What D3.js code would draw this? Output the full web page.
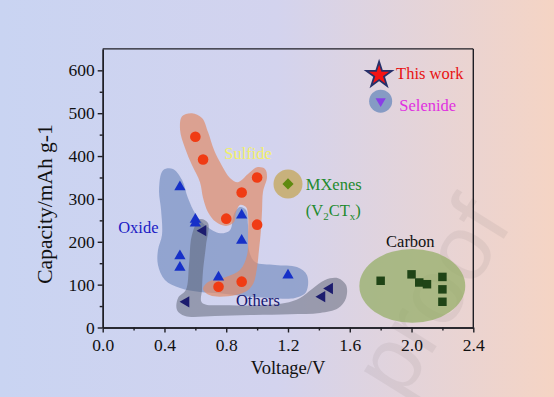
<!DOCTYPE html>
<html>
<head>
<meta charset="utf-8">
<script src="https://cdn.jsdelivr.net/npm/d3@7/dist/d3.min.js"></script>
<style>
  body { margin: 0; }
  svg { display: block; font-family: "Liberation Serif", "Times New Roman", serif; }
</style>
</head>
<body>
<div id="chart"><svg width="554" height="397"></svg></div>
<script>
// ---- data (voltage V, capacity mAh/g) ----
var sulfideV = [0.6, 0.65, 1.0, 0.9, 0.8, 1.0, 0.75, 0.9];
var sulfideC = [445, 392, 350, 315, 254, 240, 95, 107];
var oxideV = [0.5, 0.6, 0.6, 0.9, 0.9, 0.5, 0.5, 0.75, 1.2];
var oxideC = [328, 252, 243, 262, 203, 167, 140, 117, 122];
var othersV = [0.65, 0.54, 1.47, 1.42];
var othersC = [226, 60, 91, 72];
var carbonV = [1.8, 2.0, 2.05, 2.1, 2.2, 2.2, 2.2];
var carbonC = [109, 124, 105, 101, 118, 89, 60];
var mxeneV = [1.2];
var mxeneC = [335];
var thisWork = [1.79, 589];
var selenide = [1.8, 528];

var xTicks = [0, 0.4, 0.8, 1.2, 1.6, 2.0, 2.4];
var yTicks = [0, 100, 200, 300, 400, 500, 600];

// hand drawn group regions, [V, mAh/g]
var sulfideArea = [[0.514,493],[0.578,500],[0.643,489],[0.682,456],[0.721,414],[0.773,377],[0.824,349],[0.876,339],
  [0.941,358],[0.999,374],[1.051,370],[1.064,351],[1.038,316],[1.032,274],[1.025,227],[1.012,181],[0.999,139],
  [0.973,101],[0.922,83],[0.812,73],[0.695,75],[0.65,90],[0.682,106],[0.799,118],[0.889,134],[0.935,169],
  [0.941,216],[0.941,262],[0.928,281],[0.889,286],[0.863,269],[0.85,246],[0.799,237],[0.734,246],[0.682,269],
  [0.65,302],[0.63,339],[0.578,379],[0.533,419],[0.501,461]];
var oxideArea = [[0.391,367],[0.455,370],[0.514,344],[0.552,302],[0.604,263],[0.676,235],[0.76,220],[0.824,227],
  [0.85,265],[0.889,281],[0.928,274],[0.941,239],[0.947,181],[0.986,153],[1.116,146],[1.258,141],[1.323,122],
  [1.317,83],[1.245,69],[1.083,69],[0.922,73],[0.76,80],[0.63,83],[0.501,92],[0.403,111],[0.358,146],
  [0.358,181],[0.384,216],[0.378,274],[0.365,321]];
var othersArea = [[0.63,253],[0.682,244],[0.669,192],[0.65,134],[0.643,88],[0.643,58],[0.824,52],[1.019,52],
  [1.18,57],[1.278,69],[1.356,90],[1.44,111],[1.524,115],[1.576,99],[1.576,69],[1.524,45],[1.407,34],
  [1.213,31],[0.954,29],[0.727,27],[0.533,27],[0.481,41],[0.488,69],[0.539,88],[0.559,146],[0.578,216]];
var carbonArea = { cx: 2.005, cy: 97, rx: 0.343, ry: 86 };

var svg = d3.select("#chart").select("svg");
var width = +svg.attr("width");
var height = +svg.attr("height");
var margin = { top: 48.9, right: 80.7, bottom: 69.5, left: 102.7 };

// background
var grad = svg.append("defs").append("linearGradient")
  .attr("id", "bg").attr("x1", "0").attr("x2", "1").attr("y1", "0").attr("y2", "0");
grad.append("stop").attr("offset", "0").attr("stop-color", "#c9d4f2");
grad.append("stop").attr("offset", "0.5").attr("stop-color", "#d3d3ee");
grad.append("stop").attr("offset", "1").attr("stop-color", "#f5d4c4");
svg.append("rect").attr("width", width).attr("height", height).attr("fill", "url(#bg)");

// watermark
svg.append("text")
  .attr("transform", "translate(402,402) rotate(-58)")
  .attr("font-family", "Liberation Sans, sans-serif")
  .attr("font-size", 92)
  .attr("fill", "#7a7070")
  .attr("opacity", 0.1)
  .text("proof");

var x = d3.scaleLinear().domain([0, 2.4]).range([margin.left, width - margin.right]);
var y = d3.scaleLinear().domain([0, 650]).range([height - margin.bottom, margin.top]);

var area = d3.line()
  .x(function(d) { return x(d[0]); })
  .y(function(d) { return y(d[1]); })
  .curve(d3.curveCatmullRomClosed.alpha(0.5));

svg.append("path").datum(oxideArea).attr("d", area)
  .attr("fill", "#6582b8").attr("opacity", 0.58);
svg.append("path").datum(sulfideArea).attr("d", area)
  .attr("fill", "#e08c6a").attr("opacity", 0.7);
svg.append("path").datum(othersArea).attr("d", area)
  .attr("fill", "#535a6a").attr("opacity", 0.47);

svg.append("ellipse")
  .attr("cx", x(carbonArea.cx)).attr("cy", y(carbonArea.cy))
  .attr("rx", x(carbonArea.rx) - x(0)).attr("ry", y(0) - y(carbonArea.ry))
  .attr("fill", "#93ad64").attr("opacity", 0.72);

svg.append("circle")
  .attr("cx", x(mxeneV[0])).attr("cy", y(mxeneC[0])).attr("r", 14.5)
  .attr("fill", "#c4a450").attr("opacity", 0.72);

svg.append("circle")
  .attr("cx", x(selenide[0])).attr("cy", y(selenide[1])).attr("r", 11.5)
  .attr("fill", "#7590c0").attr("opacity", 0.85);

// axes
var g = svg.append("g");
g.append("g")
  .attr("transform", "translate(0," + y(0) + ")")
  .call(d3.axisBottom(x).tickValues(xTicks).tickFormat(d3.format(".1f")).tickSize(5).tickPadding(6).tickSizeOuter(0));
g.append("g")
  .attr("transform", "translate(0," + y(0) + ")")
  .call(d3.axisBottom(x).tickValues([0.2, 0.6, 1.0, 1.4, 1.8, 2.2]).tickFormat("").tickSize(3).tickSizeOuter(0));
g.append("g")
  .attr("transform", "translate(" + x(0) + ",0)")
  .call(d3.axisLeft(y).tickValues(yTicks).tickSize(5).tickPadding(3).tickSizeOuter(0));
g.append("g")
  .attr("transform", "translate(" + x(0) + ",0)")
  .call(d3.axisLeft(y).tickValues([50, 150, 250, 350, 450, 550]).tickFormat("").tickSize(3).tickSizeOuter(0));

g.selectAll(".domain, .tick line").attr("stroke", "#1e1e24").attr("stroke-width", 1.4);
g.selectAll(".tick text")
  .attr("font-family", "Liberation Serif, serif").attr("font-size", 17.5).attr("fill", "#111");

// frame top/right
g.append("line").attr("x1", x(0)).attr("x2", x(2.4)).attr("y1", y(650)).attr("y2", y(650))
  .attr("stroke", "#1e1e24").attr("stroke-width", 1.4);
g.append("line").attr("x1", x(2.4)).attr("x2", x(2.4)).attr("y1", y(650)).attr("y2", y(0))
  .attr("stroke", "#1e1e24").attr("stroke-width", 1.4);

svg.append("text")
  .attr("x", (x(0) + x(2.4)) / 2).attr("y", 374)
  .attr("text-anchor", "middle").attr("font-size", 18.5).attr("fill", "#111")
  .text("Voltage/V");
svg.append("text")
  .attr("transform", "translate(52," + 204 + ") rotate(-90)")
  .attr("text-anchor", "middle").attr("font-size", 21.5).attr("fill", "#111")
  .text("Capacity/mAh g-1");

// markers
function pts(vs, cs) {
  return vs.map(function(v, i) { return [v, cs[i]]; });
}

svg.selectAll(".sulfide").data(pts(sulfideV, sulfideC)).enter()
  .append("circle").attr("class", "sulfide")
  .attr("cx", function(d) { return x(d[0]); })
  .attr("cy", function(d) { return y(d[1]); })
  .attr("r", 5.3).attr("fill", "#f03c14");

svg.selectAll(".oxide").data(pts(oxideV, oxideC)).enter()
  .append("path").attr("class", "oxide")
  .attr("transform", function(d) { return "translate(" + x(d[0]) + "," + y(d[1]) + ")"; })
  .attr("d", d3.symbol().type(d3.symbolTriangle).size(55))
  .attr("fill", "#1630c8");

svg.selectAll(".others").data(pts(othersV, othersC)).enter()
  .append("path").attr("class", "others")
  .attr("transform", function(d) { return "translate(" + x(d[0]) + "," + y(d[1]) + ") rotate(-90)"; })
  .attr("d", d3.symbol().type(d3.symbolTriangle).size(55))
  .attr("fill", "#1c1c6e");

svg.selectAll(".carbon").data(pts(carbonV, carbonC)).enter()
  .append("path").attr("class", "carbon")
  .attr("transform", function(d) { return "translate(" + x(d[0]) + "," + y(d[1]) + ")"; })
  .attr("d", d3.symbol().type(d3.symbolSquare).size(72))
  .attr("fill", "#1f4416");

svg.selectAll(".mxene").data(pts(mxeneV, mxeneC)).enter()
  .append("path").attr("class", "mxene")
  .attr("transform", function(d) { return "translate(" + x(d[0]) + "," + y(d[1]) + ") rotate(45)"; })
  .attr("d", d3.symbol().type(d3.symbolSquare).size(62))
  .attr("fill", "#5f8a10");

svg.append("path")
  .attr("transform", "translate(" + x(thisWork[0]) + "," + y(thisWork[1]) + ")")
  .attr("d", d3.symbol().type(d3.symbolStar).size(200))
  .attr("fill", "#f41414").attr("stroke", "#26306a").attr("stroke-width", 1.8);

svg.append("path")
  .attr("transform", "translate(" + x(selenide[0]) + "," + y(selenide[1]) + ") rotate(180)")
  .attr("d", d3.symbol().type(d3.symbolTriangle).size(45))
  .attr("fill", "#8a3ee6");

// labels
var labels = [
  { t: "Sulfide", v: 0.787, c: 392, color: "#f2f06a" },
  { t: "Oxide", v: 0.1, c: 220, color: "#1a1ac4" },
  { t: "Others", v: 0.863, c: 49, color: "#151570" },
  { t: "MXenes", v: 1.315, c: 320, color: "#1f8a2e" },
  { t: "Carbon", v: 1.835, c: 188, color: "#111" },
  { t: "This work", v: 1.9, c: 580, color: "#e81212" },
  { t: "Selenide", v: 1.921, c: 505, color: "#e030e0" }
];
svg.selectAll(".lbl").data(labels).enter()
  .append("text").attr("class", "lbl")
  .attr("x", function(d) { return x(d.v); })
  .attr("y", function(d) { return y(d.c); })
  .attr("font-size", 16.5)
  .attr("fill", function(d) { return d.color; })
  .text(function(d) { return d.t; });

var v2 = svg.append("text")
  .attr("x", x(1.315)).attr("y", y(261))
  .attr("font-size", 16.5).attr("fill", "#1f8a2e");
v2.append("tspan").text("(V");
v2.append("tspan").attr("font-size", 11).attr("dy", 4).text("2");
v2.append("tspan").attr("dy", -4).text("CT");
v2.append("tspan").attr("font-size", 11).attr("dy", 4).text("x");
v2.append("tspan").attr("dy", -4).text(")");
</script>
</body>
</html>
